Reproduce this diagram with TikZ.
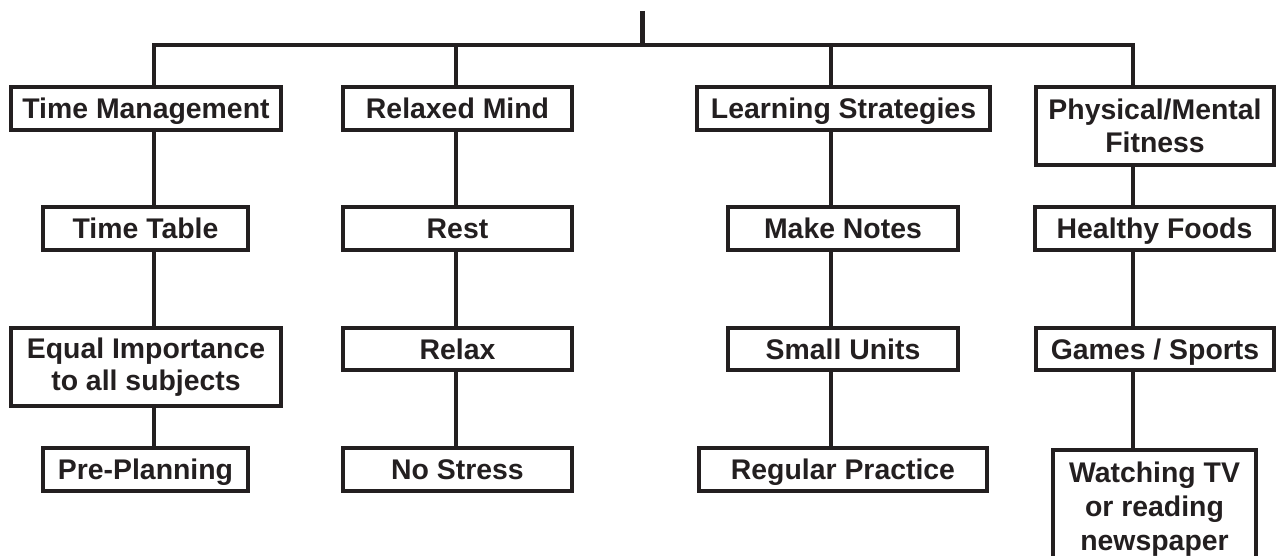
\documentclass[tikz,border=0pt]{standalone}
\usepackage{fontspec}
\setmainfont{Liberation Sans}
\definecolor{ink}{HTML}{231F20}
\begin{document}
\begin{tikzpicture}[x=0.75pt,y=-0.75pt,
  box/.style={draw=ink, line width=3pt, inner sep=0pt, align=center, text=ink,
    font=\bfseries\fontsize{21.3}{24.5}\selectfont},
  one/.style={text height=15.3pt, text depth=0pt},
  bw/.style={minimum width=#1*0.75pt},
  bh/.style={minimum height=#1*0.75pt},
  conn/.style={draw=ink, line width=3pt},
  stemline/.style={draw=ink, line width=3.75pt}]
\useasboundingbox (0,0) rectangle (1281,556);
\clip (0,0) rectangle (1281,556);
% row 1
\node[box,one,bw=270,bh=43] (tm) at (146,108.5) {Time Management};
\node[box,one,bw=229,bh=43] (rm) at (457.5,108.5) {Relaxed Mind};
\node[box,one,bw=293,bh=43] (ls) at (843.5,108.5) {Learning Strategies};
\node[box,bw=238,bh=78] (pm) at (1155,126) {Physical/Mental\\Fitness};
% row 2
\node[box,one,bw=205,bh=43] (tt) at (145.5,228.5) {Time Table};
\node[box,one,bw=229,bh=43] (rest) at (457.5,228.5) {Rest};
\node[box,one,bw=230,bh=43] (mn) at (843,228.5) {Make Notes};
\node[box,one,bw=239,bh=43] (hf) at (1154.5,228.5) {Healthy Foods};
% row 3
\node[box,bw=270,bh=78] (ei) at (146,367) {Equal Importance\\to all subjects};
\node[box,one,bw=229,bh=42] (rx) at (457.5,349) {Relax};
\node[box,one,bw=230,bh=42] (su) at (843,349) {Small Units};
\node[box,one,bw=238,bh=42] (gs) at (1155,349) {Games / Sports};
% row 4
\node[box,one,bw=205,bh=43] (pp) at (145.5,469.5) {Pre-Planning};
\node[box,one,bw=229,bh=43] (ns) at (457.5,469.5) {No Stress};
\node[box,one,bw=288,bh=43] (rp) at (843,469.5) {Regular Practice};
\node[box,bw=203,bh=200,anchor=north,
  label={[anchor=north,yshift=-10.2pt,align=center,inner sep=0pt,text=ink,
    font=\bfseries\fontsize{21.3}{25.5}\selectfont]north:{Watching TV\\or reading\\newspaper}}]
  (wt) at (1154.5,448) {};
% connectors
\coordinate (root) at (642.5,11);
\coordinate (bar) at (642.5,45);
\coordinate (c1) at (153.5,45);
\coordinate (c2) at (455.5,45);
\coordinate (c3) at (830.5,45);
\coordinate (c4) at (1133,45);
\draw[stemline] (root) -- (bar);
\draw[conn] (tm.north -| c1) -- (c1) -- (c4) -- (pm.north -| c4);
\draw[conn] (c2) -- (rm.north -| c2);
\draw[conn] (c3) -- (ls.north -| c3);
\draw[conn] (tm.south -| c1) -- (tt.north -| c1);
\draw[conn] (tt.south -| c1) -- (ei.north -| c1);
\draw[conn] (ei.south -| c1) -- (pp.north -| c1);
\draw[conn] (rm.south -| c2) -- (rest.north -| c2);
\draw[conn] (rest.south -| c2) -- (rx.north -| c2);
\draw[conn] (rx.south -| c2) -- (ns.north -| c2);
\draw[conn] (ls.south -| c3) -- (mn.north -| c3);
\draw[conn] (mn.south -| c3) -- (su.north -| c3);
\draw[conn] (su.south -| c3) -- (rp.north -| c3);
\draw[conn] (pm.south -| c4) -- (hf.north -| c4);
\draw[conn] (hf.south -| c4) -- (gs.north -| c4);
\draw[conn] (gs.south -| c4) -- (wt.north -| c4);
\end{tikzpicture}
\end{document}
